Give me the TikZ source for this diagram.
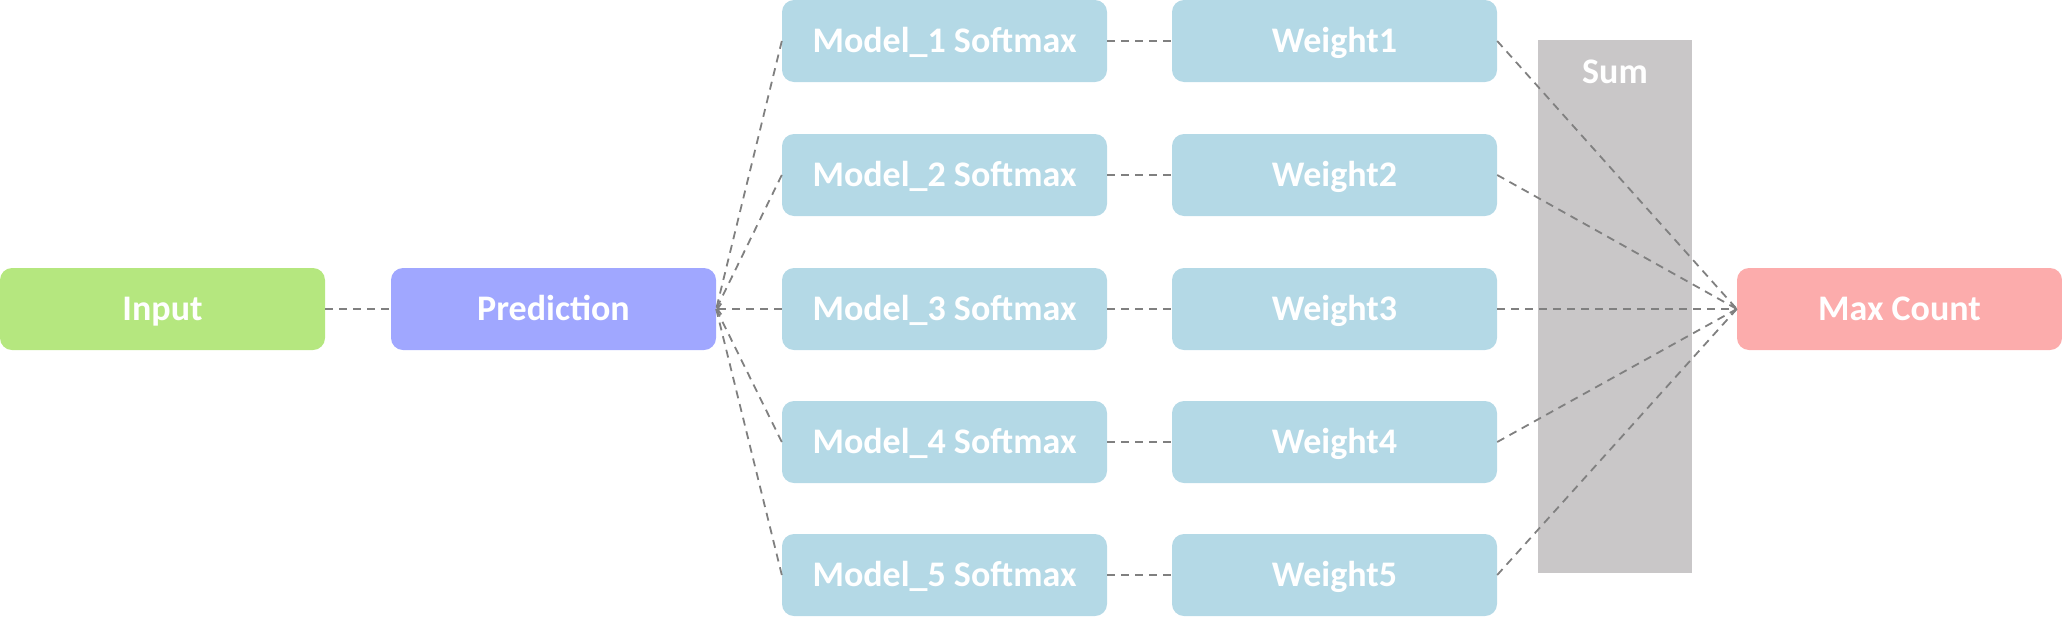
\documentclass[tikz,border=0pt]{standalone}
\usepackage{fontspec}
\setmainfont{Carlito}
\usetikzlibrary{arrows.meta}
\definecolor{cin}{RGB}{181,231,127}
\definecolor{cpred}{RGB}{160,167,255}
\definecolor{cblue}{RGB}{180,217,230}
\definecolor{cpink}{RGB}{252,172,172}
\definecolor{cgray}{RGB}{201,199,200}
\definecolor{cline}{RGB}{128,128,128}
\tikzset{
  lbl/.style={text=white, font=\fontsize{36}{40}\selectfont\bfseries,
    text height=23pt, text depth=0pt},
  box/.style={lbl, rounded corners=12pt, minimum width=325pt, minimum height=82pt,
    inner sep=0pt},
  conn/.style={draw=cline, line width=1.8pt, dash pattern=on 8pt off 6pt},
  tip/.style={-{Straight Barb[length=4pt,width=11pt,line width=1.8pt]}}
}
\begin{document}
\begin{tikzpicture}[x=1pt,y=-1pt]
\useasboundingbox (0,0) rectangle (2062,622);
% Sum block
\node[fill=cgray, minimum width=154pt, minimum height=533pt, inner sep=0pt] (sum) at (1615,306.5) {};
\node[lbl] (sumlabel) at (1615,72) {Sum};
% main nodes
\node[box, fill=cin] (in) at (162.5,309) {Input};
\node[box, fill=cpred] (pred) at (553.5,309) {Prediction};
\node[box, fill=cpink] (max) at (1899.5,309) {Max Count};
\foreach \i/\y in {1/41,2/175,3/309,4/442,5/575}{
  \node[box, fill=cblue] (m\i) at (944.5,\y) {Model\_\i{} Softmax};
  \node[box, fill=cblue] (w\i) at (1334.5,\y) {Weight\i};
}
% connectors
\draw[conn] (in.east) -- (pred.west);
\foreach \i in {1,2,4,5}{
  \draw[conn] (m\i.west) -- (pred.east);
  \draw[conn] (w\i.east) -- (max.west);
}
\draw[conn,tip] (m3.west) -- (pred.east);
\draw[conn,tip] (w3.east) -- (max.west);
\foreach \i in {1,...,5}{
  \draw[conn] (m\i.east) -- (w\i.west);
}
\end{tikzpicture}
\end{document}
